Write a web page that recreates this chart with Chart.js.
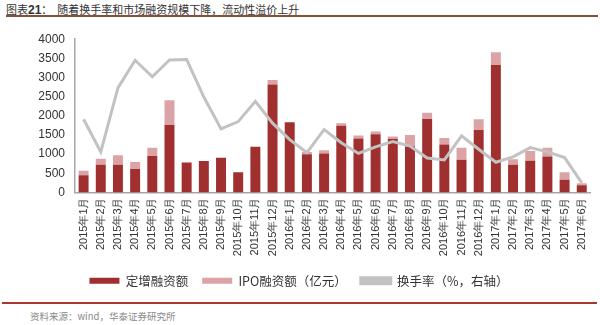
<!DOCTYPE html>
<html>
<head>
<meta charset="utf-8">
<script src="https://cdn.jsdelivr.net/npm/chart.js@4"></script>
<style>
  body { margin: 0; background: #fff; }
  #wrap { position: relative; width: 600px; height: 325px; font-family: "Noto Sans CJK SC", sans-serif; }
  #title { position: absolute; left: 6px; top: 1px; font-size: 11px; color: #333; }
  #title b { font-family: "Liberation Sans", Arial, sans-serif; font-size: 12px; }
  #topRule { position: absolute; left: 6px; top: 15px; width: 592px; height: 2px; background: #84503a; }
  #box { position: absolute; left: 0; top: 22px; width: 600px; height: 275px; }
  #bottomRule { position: absolute; left: 2px; top: 302px; width: 595px; height: 1.5px; background: #a8382c; }
  #source { position: absolute; left: 30px; top: 309px; font-size: 9.5px; color: #8a8a8a; }
</style>
</head>
<body>
<div id="wrap">
  <div id="title">图表<b>21</b>：&nbsp;&nbsp;随着换手率和市场融资规模下降，流动性溢价上升</div>
  <div id="topRule"></div>
  <div id="box"><canvas id="mainChart"></canvas></div>
  <div id="bottomRule"></div>
  <div id="source">资料来源：wind，华泰证券研究所</div>
</div>
<script>
const months = [
  "2015年1月", "2015年2月", "2015年3月", "2015年4月", "2015年5月", "2015年6月",
  "2015年7月", "2015年8月", "2015年9月", "2015年10月", "2015年11月", "2015年12月",
  "2016年1月", "2016年2月", "2016年3月", "2016年4月", "2016年5月", "2016年6月",
  "2016年7月", "2016年8月", "2016年9月", "2016年10月", "2016年11月", "2016年12月",
  "2017年1月", "2017年2月", "2017年3月", "2017年4月", "2017年5月", "2017年6月"
];

// 定增融资额（亿元）
const placement = [
  450, 725, 725, 615, 955, 1760, 775, 820, 905, 530, 1195, 2815,
  1835, 1000, 1015, 1740, 1410, 1520, 1395, 1210, 1920, 1255, 855, 1630,
  3330, 725, 830, 940, 335, 190
];

// IPO融资额（亿元）
const ipo = [
  120, 155, 245, 180, 215, 645, 20, 0, 0, 0, 0, 120,
  0, 60, 85, 70, 75, 70, 65, 290, 160, 170, 315, 280,
  330, 145, 255, 230, 195, 50
];

// 换手率（%，右轴）
const turnover = [
  19.1, 10.6, 27.3, 34.5, 30.2, 34.6, 34.7, 24.9, 16.6, 18.5, 23.8, 18.1,
  13.8, 10.4, 16.4, 13.0, 10.2, 11.9, 13.3, 12.1, 9.0, 8.5, 14.8, 11.3,
  7.9, 9.3, 11.7, 10.6, 9.1, 2.5
];

const yTicks = [0, 500, 1000, 1500, 2000, 2500, 3000, 3500, 4000];

const ctx = document.getElementById("mainChart");

new Chart(ctx, {
  type: "bar",
  data: {
    labels: months,
    datasets: [
      {
        label: "定增融资额",
        data: placement,
        backgroundColor: "#a0302f",
        stack: "s",
        yAxisID: "y",
        order: 1,
      },
      {
        label: "IPO融资额（亿元）",
        data: ipo,
        backgroundColor: "#dca3a6",
        stack: "s",
        yAxisID: "y",
        order: 1,
      },
      {
        type: "line",
        label: "换手率（%，右轴）",
        data: turnover,
        borderColor: "#c2c2c2",
        backgroundColor: "#c2c2c2",
        borderWidth: 3,
        pointRadius: 0,
        tension: 0,
        yAxisID: "y1",
        order: 0,
      },
    ],
  },
  options: {
    responsive: true,
    maintainAspectRatio: false,
    animation: false,
    layout: {
      padding: { left: 0, right: 2, top: 14, bottom: 0 },
    },
    datasets: {
      bar: {
        categoryPercentage: 1,
        barPercentage: 0.58,
      },
    },
    plugins: {
      legend: {
        position: "bottom",
        labels: {
          color: "#333",
          boxWidth: 30,
          boxHeight: 6,
          padding: 14,
          sort: (a, b) => a.datasetIndex - b.datasetIndex,
          font: {
            size: 12.5,
            family: "Noto Sans CJK SC",
          },
        },
      },
      tooltip: { enabled: false },
    },
    scales: {
      x: {
        stacked: true,
        grid: { display: false, drawTicks: false },
        border: { color: "#a6a6a6", width: 1.5 },
        afterFit: (scale) => {
          scale.height = 68;
        },
        ticks: {
          autoSkip: false,
          minRotation: 90,
          maxRotation: 90,
          padding: 5,
          color: "#333",
          font: {
            size: 11,
            family: "Liberation Sans",
          },
        },
      },
      y: {
        stacked: true,
        min: 0,
        max: 4000,
        afterBuildTicks: (scale) => {
          scale.ticks = yTicks.map((v) => ({ value: v }));
        },
        afterFit: (scale) => {
          scale.width = 75;
        },
        grid: { display: false, drawTicks: false },
        border: { color: "#a6a6a6", width: 1.5 },
        ticks: {
          padding: 10,
          color: "#333",
          callback: (value) => String(value),
          font: {
            size: 12,
            family: "Liberation Sans",
          },
        },
      },
      y1: {
        display: false,
        min: 0,
        max: 40,
      },
    },
  },
});
</script>
</body>
</html>
